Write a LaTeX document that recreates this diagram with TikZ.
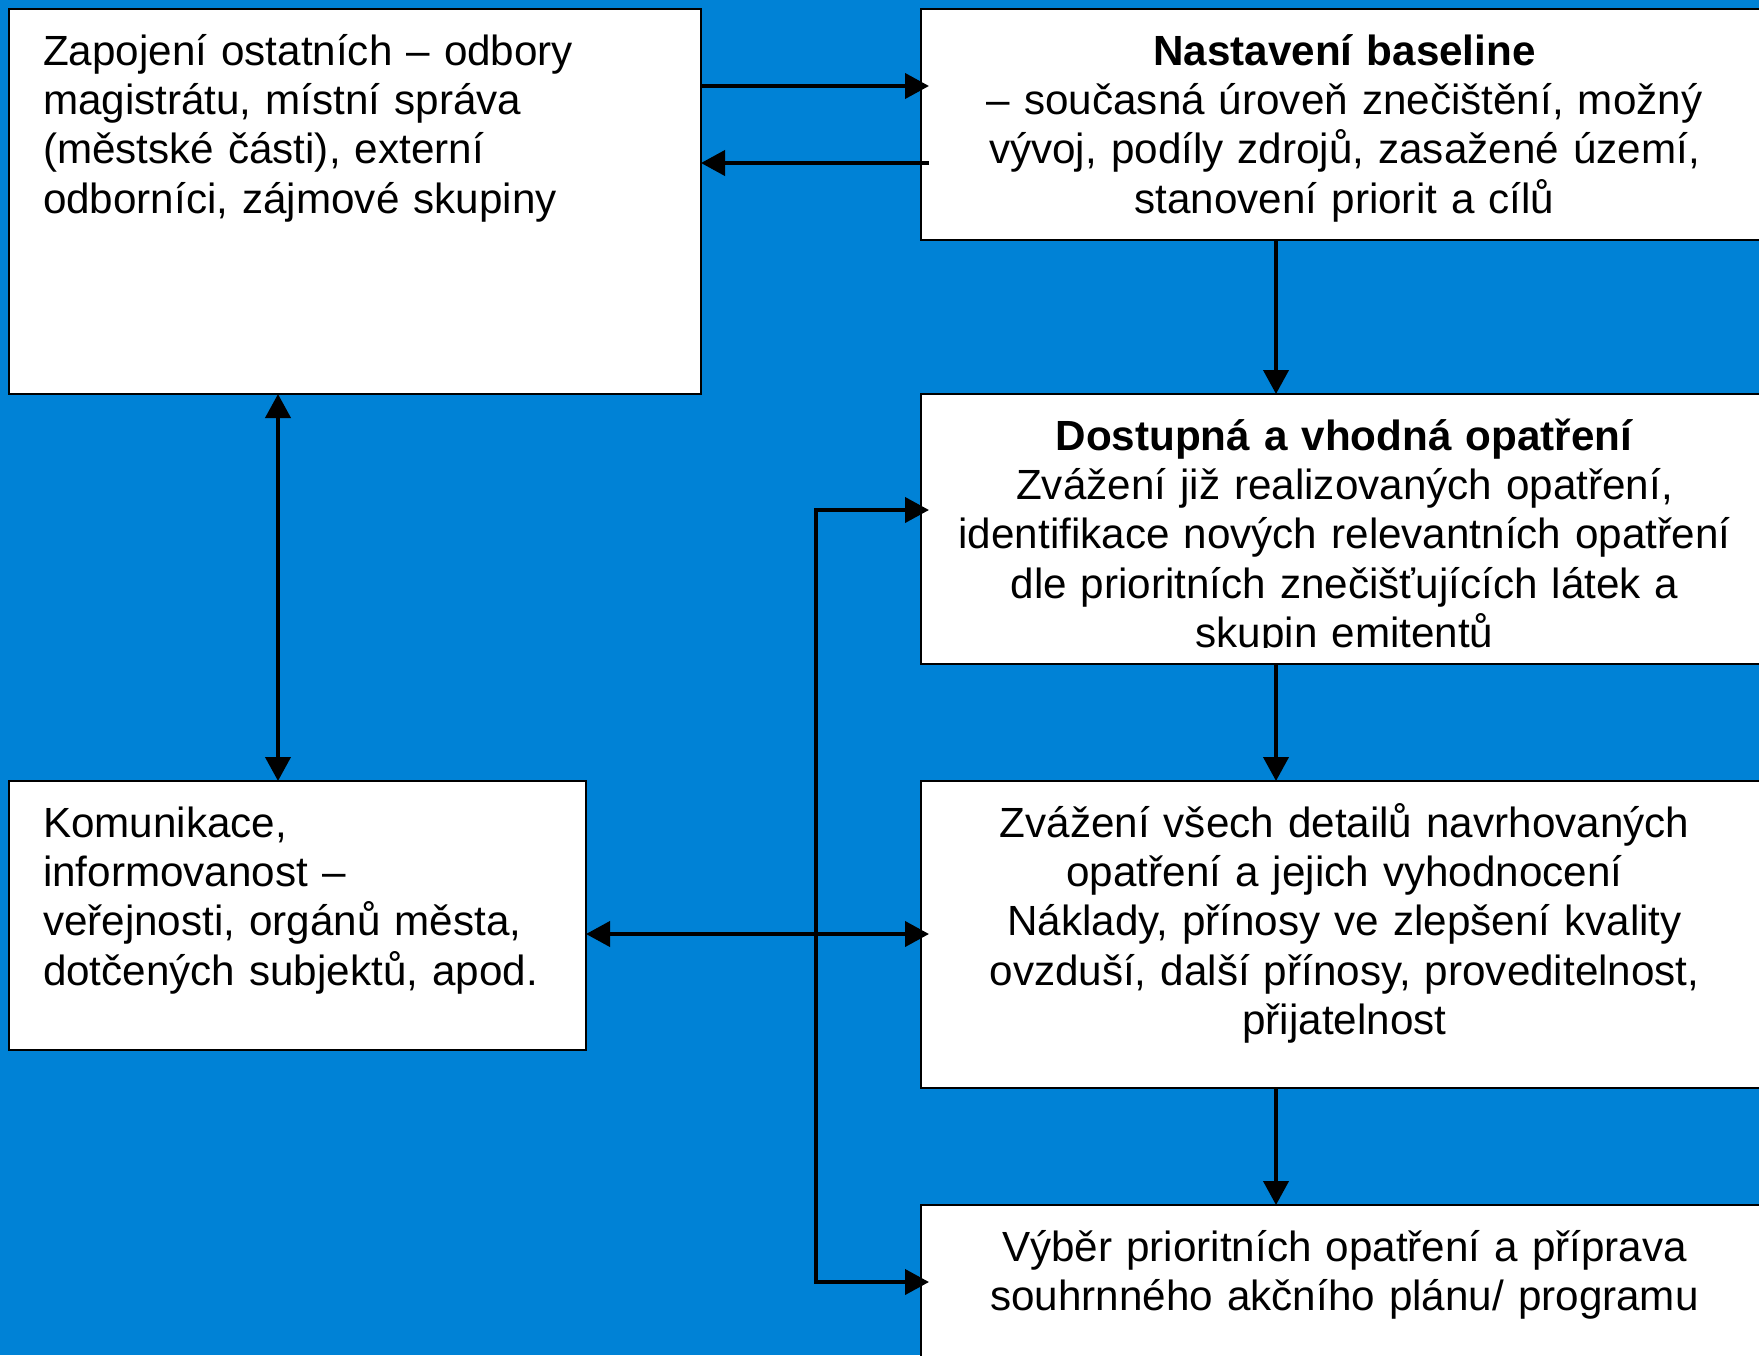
\documentclass[tikz,border=0pt]{standalone}
\usepackage{fontspec}
\setmainfont{Liberation Sans}
\usetikzlibrary{arrows.meta}
\definecolor{bgblue}{RGB}{0,130,214}
\tikzset{
  box/.style={draw, line width=1.4pt, fill=white, anchor=north west, outer sep=0pt,
    inner ysep=0pt, text height=28pt, font=\fontsize{21.1pt}{24.7pt}\selectfont},
  lbox/.style={box, align=left, inner xsep=17pt},
  cbox/.style={box, align=center, inner xsep=0pt, text width=423.5pt},
  link/.style={line width=2pt, -{Triangle[length=12pt,width=12.5pt]}},
  dlink/.style={line width=2pt, {Triangle[length=12pt,width=12.5pt]}-{Triangle[length=12pt,width=12.5pt]}},
}
\begin{document}
\begin{tikzpicture}[x=0.5pt,y=-0.5pt]
\useasboundingbox (0,0) rectangle (1759,1355);
\fill[bgblue] (0,0) rectangle (1759,1355);
% left column
\node[lbox, text width=312pt, text depth=164.5pt] (zapojeni) at (9,9)
  {Zapojení ostatních – odbory\\ magistrátu, místní správa\\ (městské části), externí\\ odborníci, zájmové skupiny};
\node[lbox, text width=254.5pt, text depth=106.5pt] (komunikace) at (9,781)
  {Komunikace,\\ informovanost –\\ veřejnosti, orgánů města,\\ dotčených subjektů, apod.};
% right column
\node[cbox, text depth=87.5pt] (baseline) at (921,9)
  {\textbf{Nastavení baseline}\\ – současná úroveň znečištění, možný\\ vývoj, podíly zdrojů, zasažené území,\\ stanovení priorit a cílů};
\node[cbox, text depth=107pt] (opatreni) at (921,394)
  {\textbf{Dostupná a vhodná opatření}\\ Zvážení již realizovaných opatření,\\ identifikace nových relevantních opatření\\ dle prioritních znečišťujících látek a\\ skupin emitentů};
% the last line is cut off at its baseline
\fill[white] (925,648) rectangle (1764,661);
\node[cbox, text depth=125.5pt] (detaily) at (921,781)
  {Zvážení všech detailů navrhovaných\\ opatření a jejich vyhodnocení\\ Náklady, přínosy ve zlepšení kvality\\ ovzduší, další přínosy, proveditelnost,\\ přijatelnost};
\node[cbox, text depth=69.5pt] (vyber) at (921,1205)
  {Výběr prioritních opatření a příprava\\ souhrnného akčního plánu/ programu};
% rows and columns of the connectors
\coordinate (r1) at (0,86);
\coordinate (r2) at (0,163);
\coordinate (r3) at (0,510);
\coordinate (r4) at (0,934);
\coordinate (r5) at (0,1282);
\coordinate (cx) at (278,0);
\coordinate (bx) at (816,0);
\coordinate (mx) at (1276,0);
\draw[link, shorten >=-4pt] (zapojeni.east |- r1) -- (baseline.west |- r1);
\draw[link, shorten <=-4pt] (baseline.west |- r2) -- (zapojeni.east |- r2);
\draw[dlink] (zapojeni.south -| cx) -- (komunikace.north -| cx);
\draw[link] (baseline.south -| mx) -- (opatreni.north -| mx);
\draw[link] (opatreni.south -| mx) -- (detaily.north -| mx);
\draw[link] (detaily.south -| mx) -- (vyber.north -| mx);
\draw[dlink, shorten <=-4pt, shorten >=-4pt] (opatreni.west |- r3) -- (bx |- r3) -- (bx |- r5) -- (vyber.west |- r5);
\draw[dlink, shorten >=-4pt] (komunikace.east |- r4) -- (detaily.west |- r4);
\end{tikzpicture}
\end{document}
